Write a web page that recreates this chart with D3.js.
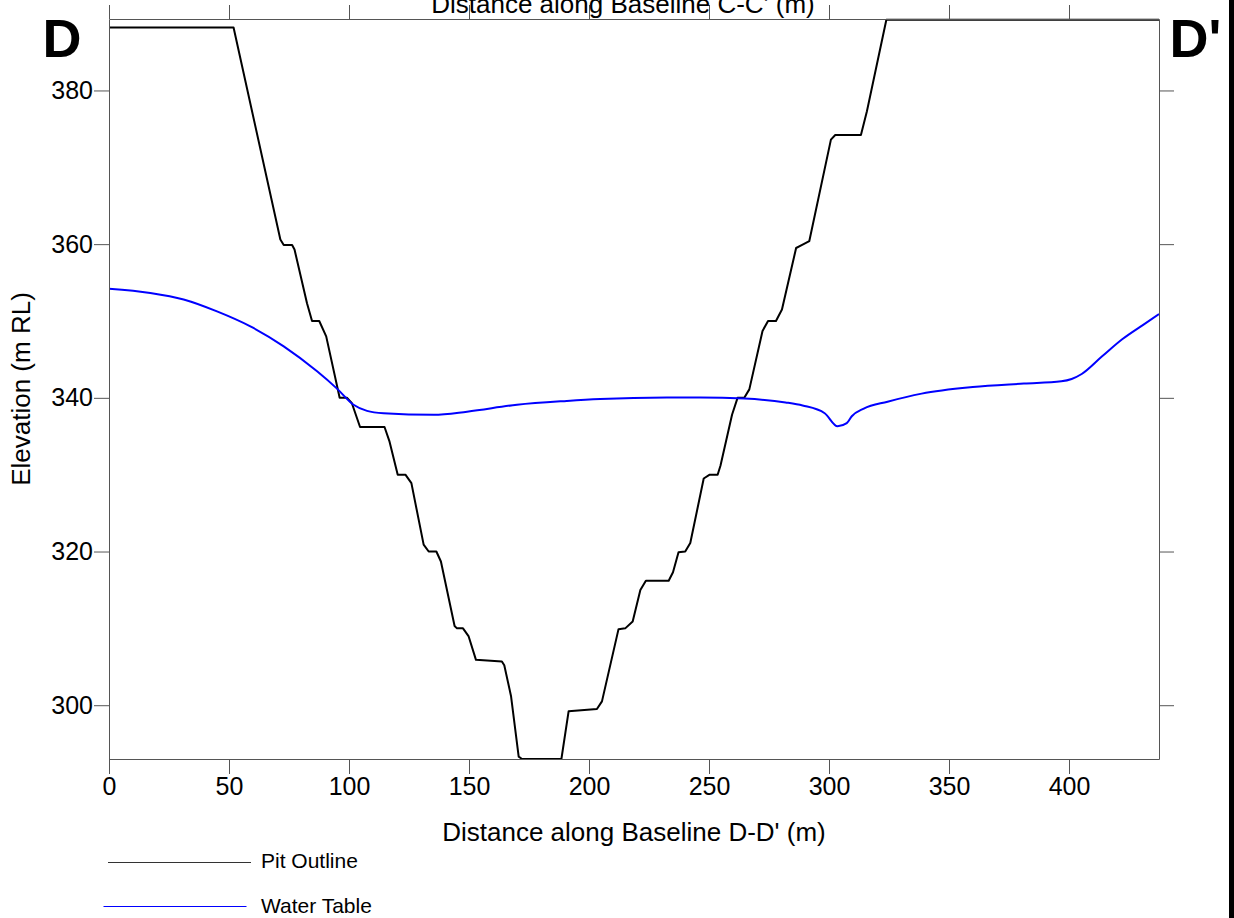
<!DOCTYPE html>
<html>
<head>
<meta charset="utf-8">
<script src="https://cdn.jsdelivr.net/npm/d3@7"></script>
<style>
  html, body { margin: 0; padding: 0; background: #fff; }
  svg { display: block; font-family: "Liberation Sans", Arial, sans-serif; }
</style>
</head>
<body>
<svg id="chart" width="1234" height="918"></svg>
<script>
// Pit outline profile along baseline D-D' (distance m, elevation m RL)
const pitDistance = [0, 51.9, 71.4, 72.8, 76.3, 77.3, 82.5, 84.6, 87.6, 90.5, 96.1, 99.2, 101.2, 104.6,
  114.8, 116.9, 120.3, 123.5, 126.0, 131.1, 133.2, 136.4, 138.3, 144.0, 145.0, 147.5, 149.8, 152.9,
  163.7, 164.7, 167.5, 170.7, 172.1, 188.5, 191.5, 203.3, 205.4, 212.3, 215.1, 218.2, 221.4, 223.7,
  233.2, 235.0, 237.3, 240.1, 242.2, 247.8, 250.3, 253.6, 254.8, 259.6, 261.9, 264.7, 266.8, 272.3,
  274.6, 277.9, 280.4, 286.3, 288.8, 291.8, 300.8, 302.6, 313.3, 315.8, 323.9, 437.5];
const pitElevation = [388.2, 388.2, 360.6, 359.9, 359.9, 359.3, 352.3, 350.0, 350.0, 348.0, 340.0, 340.0, 339.3, 336.2,
  336.2, 334.3, 330.0, 330.0, 328.9, 320.9, 320.0, 320.0, 318.7, 310.3, 310.0, 310.0, 309.0, 305.9,
  305.7, 305.2, 301.2, 293.3, 293.0, 293.0, 299.2, 299.5, 300.5, 309.9, 310.0, 310.9, 315.0, 316.2,
  316.2, 317.3, 319.9, 320.0, 321.1, 329.5, 330.0, 330.0, 331.2, 337.8, 340.0, 340.0, 341.1, 348.7,
  350.0, 350.0, 351.5, 359.5, 359.9, 360.4, 373.6, 374.2, 374.2, 377.3, 389.2, 389.2];

// Water table profile along the same baseline
const waterDistance = [0, 17.2, 31.1, 45.0, 58.9, 72.8, 86.7, 95.0, 101.9, 107.5, 114.4, 135.3, 149.2,
  170.0, 190.8, 204.7, 232.5, 246.4, 264.8, 281.9, 289.0, 298.2, 303.6, 307.4, 309.5, 314.5, 324.4,
  338.6, 359.9, 381.2, 396.8, 401.1, 405.3, 413.8, 422.3, 430.9, 437.5];
const waterElevation = [354.2, 353.65, 352.8, 351.25, 349.3, 346.7, 343.45, 341.2, 339.1, 338.3, 338.0, 337.8, 338.2,
  339.1, 339.6, 339.85, 340.05, 340.05, 339.9, 339.4, 339.0, 338.0, 336.3, 336.7, 337.6, 338.6, 339.5,
  340.55, 341.4, 341.85, 342.15, 342.45, 343.1, 345.4, 347.65, 349.5, 350.9];

// Axis ticks
const distanceTicks = [0, 50, 100, 150, 200, 250, 300, 350, 400];
const elevationTicks = [300, 320, 340, 360, 380];

const legendLabels = ["Pit Outline", "Water Table"];

const svg = d3.select("#chart");
const plotLeft = 109, plotRight = 1159, plotTop = 19, plotBottom = 759;
const axisColor = "#555";

const x = d3.scaleLinear().domain([0, 437.5]).range([plotLeft, plotRight]);
const y = d3.scaleLinear().domain([293.0, 389.3]).range([plotBottom, plotTop]);

svg.append("defs").append("clipPath").attr("id", "plotClip")
  .append("rect").attr("x", plotLeft).attr("y", plotTop - 1)
  .attr("width", plotRight - plotLeft).attr("height", plotBottom - plotTop + 2);

// Profiles
const pit = pitDistance.map((d, i) => [d, pitElevation[i]]);
const water = waterDistance.map((d, i) => [d, waterElevation[i]]);

const plot = svg.append("g").attr("clip-path", "url(#plotClip)");
plot.append("path").datum(pit)
  .attr("fill", "none").attr("stroke", "#000").attr("stroke-width", 2).attr("stroke-linejoin", "round")
  .attr("d", d3.line().x(d => x(d[0])).y(d => y(d[1])));
plot.append("path").datum(water)
  .attr("fill", "none").attr("stroke", "#0000ff").attr("stroke-width", 2).attr("stroke-linejoin", "round")
  .attr("d", d3.line().curve(d3.curveMonotoneX).x(d => x(d[0])).y(d => y(d[1])));

// Axes
function styleAxis(g) {
  g.selectAll(".domain").attr("stroke", axisColor);
  g.selectAll(".tick line").attr("stroke", axisColor);
  g.selectAll(".tick text").attr("fill", "#000").style("font-size", "25px")
    .style("font-family", "'Liberation Sans', Arial, sans-serif");
}

svg.append("g").attr("transform", `translate(0,${plotBottom})`)
  .call(d3.axisBottom(x).tickValues(distanceTicks).tickSize(15).tickSizeOuter(0).tickPadding(3).tickFormat(d3.format("d")))
  .call(styleAxis);
svg.append("g").attr("transform", `translate(0,${plotTop})`)
  .call(d3.axisTop(x).tickValues(distanceTicks).tickSize(14).tickSizeOuter(0).tickFormat(""))
  .call(styleAxis);
svg.append("g").attr("transform", `translate(${plotLeft},0)`)
  .call(d3.axisLeft(y).tickValues(elevationTicks).tickSize(15).tickSizeOuter(0).tickPadding(1).tickFormat(d3.format("d")))
  .call(styleAxis);
svg.append("g").attr("transform", `translate(${plotRight},0)`)
  .call(d3.axisRight(y).tickValues(elevationTicks).tickSize(15).tickSizeOuter(0).tickFormat(""))
  .call(styleAxis);

// Axis titles
svg.append("text").attr("x", (plotLeft + plotRight) / 2).attr("y", 841)
  .attr("text-anchor", "middle").style("font-size", "26px").text("Distance along Baseline D-D' (m)");
svg.append("text").attr("x", 623).attr("y", 13)
  .attr("text-anchor", "middle").style("font-size", "26px").text("Distance along Baseline C-C' (m)");
svg.append("text").attr("transform", `translate(30,${(plotTop + plotBottom) / 2}) rotate(-90)`)
  .attr("text-anchor", "middle").style("font-size", "26px").text("Elevation (m RL)");

// Section end markers
svg.append("text").attr("x", 42.5).attr("y", 56.7)
  .style("font-size", "54px").style("font-weight", "bold").text("D");
svg.append("text").attr("x", 1169.5).attr("y", 56.7)
  .style("font-size", "54px").style("font-weight", "bold").text("D'");

// Legend
const legend = svg.append("g");
const legendItems = [
  { label: legendLabels[0], color: "#333", x0: 108, x1: 251, y: 862.5, ty: 868 },
  { label: legendLabels[1], color: "#0000ff", x0: 103.5, x1: 246.5, y: 906.5, ty: 913 }
];
legendItems.forEach(it => {
  legend.append("line").attr("x1", it.x0).attr("x2", it.x1).attr("y1", it.y).attr("y2", it.y)
    .attr("stroke", it.color).attr("stroke-width", 1);
  legend.append("text").attr("x", 261).attr("y", it.ty).style("font-size", "21px").text(it.label);
});

// Page edge rule
svg.append("rect").attr("x", 1229).attr("y", 0).attr("width", 5).attr("height", 918).attr("fill", "#000");
</script>
</body>
</html>
